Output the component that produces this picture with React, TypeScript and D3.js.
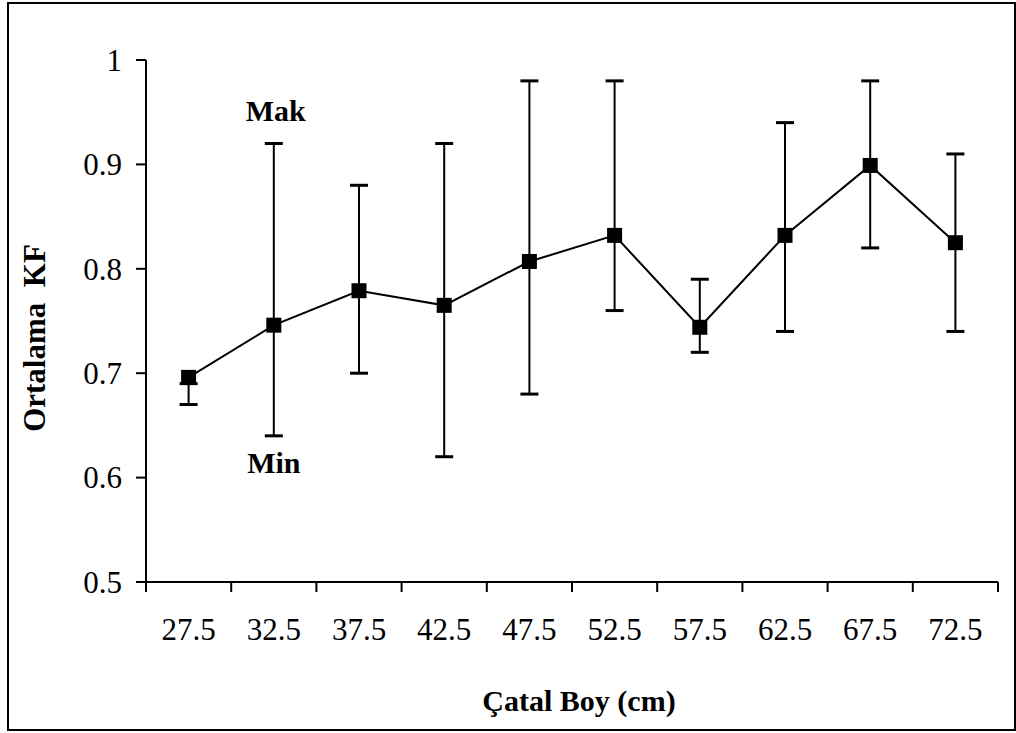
import React from "react";
import * as d3 from "d3";

const categories = ["27.5", "32.5", "37.5", "42.5", "47.5", "52.5", "57.5", "62.5", "67.5", "72.5"];
const meanValues = [0.696, 0.746, 0.779, 0.765, 0.807, 0.832, 0.744, 0.832, 0.899, 0.825];
const maxValues = [0.69, 0.92, 0.88, 0.92, 0.98, 0.98, 0.79, 0.94, 0.98, 0.91];
const minValues = [0.67, 0.64, 0.70, 0.62, 0.68, 0.76, 0.72, 0.74, 0.82, 0.74];
const yTicks = [0.5, 0.6, 0.7, 0.8, 0.9, 1];
const yTickLabels = ["0.5", "0.6", "0.7", "0.8", "0.9", "1"];

const FONT = "'Liberation Serif', 'Times New Roman', serif";

export default function App() {
  const W = 1016;
  const H = 733;
  const left = 146, right = 998, top = 60, bottom = 582;

  const x = d3.scaleBand<string>().domain(categories).range([left, right]).padding(0);
  const y = d3.scaleLinear().domain([0.5, 1]).range([bottom, top]);
  const cx = (c: string) => (x(c) as number) + x.bandwidth() / 2;

  const lineGen = d3
    .line<number>()
    .x((_, i) => cx(categories[i]))
    .y((d) => y(d));

  const boundaries = categories.map((c) => x(c) as number).concat([right]);
  const capW = 18;
  const mk = 15;

  return (
    <svg
      width={W}
      height={H}
      style={{ position: "absolute", left: 0, top: 0, background: "#fff" }}
      fontFamily={FONT}
    >
      <rect x={8} y={3} width={1007} height={727} fill="#fff" stroke="#000" strokeWidth={2} />

      {/* axes */}
      <line x1={left} y1={top} x2={left} y2={bottom + 10} stroke="#000" strokeWidth={2} />
      <line x1={left - 10} y1={bottom} x2={right} y2={bottom} stroke="#000" strokeWidth={2} />
      {yTicks.map((t, i) => (
        <g key={"yt" + i}>
          <line x1={left - 10} x2={left} y1={y(t)} y2={y(t)} stroke="#000" strokeWidth={2} />
          <text x={122} y={y(t)} dy="0.35em" textAnchor="end" fontSize={31} fill="#000">
            {yTickLabels[i]}
          </text>
        </g>
      ))}
      {boundaries.map((b, i) => (
        <line key={"xt" + i} x1={b} x2={b} y1={bottom} y2={bottom + 10} stroke="#000" strokeWidth={2} />
      ))}
      {categories.map((c) => (
        <text key={"xl" + c} x={cx(c)} y={640} textAnchor="middle" fontSize={31} fill="#000">
          {c}
        </text>
      ))}

      {/* error bars */}
      {categories.map((c, i) => {
        const xc = cx(c);
        return (
          <g key={"eb" + c}>
            <line x1={xc} x2={xc} y1={y(maxValues[i])} y2={y(minValues[i])} stroke="#000" strokeWidth={2} />
            <line x1={xc - capW / 2} x2={xc + capW / 2} y1={y(maxValues[i])} y2={y(maxValues[i])} stroke="#000" strokeWidth={3} />
            <line x1={xc - capW / 2} x2={xc + capW / 2} y1={y(minValues[i])} y2={y(minValues[i])} stroke="#000" strokeWidth={3} />
          </g>
        );
      })}

      {/* mean line */}
      <path d={lineGen(meanValues) || ""} fill="none" stroke="#000" strokeWidth={2} />
      {categories.map((c, i) => (
        <rect
          key={"m" + c}
          x={cx(c) - mk / 2}
          y={y(meanValues[i]) - mk / 2}
          width={mk}
          height={mk}
          fill="#000"
        />
      ))}

      {/* annotations */}
      <text x={cx("32.5") + 2} y={121} textAnchor="middle" fontSize={30} fontWeight="bold" fill="#000">
        Mak
      </text>
      <text x={cx("32.5")} y={473} textAnchor="middle" fontSize={30} fontWeight="bold" fill="#000">
        Min
      </text>

      {/* axis titles */}
      <text
        transform="translate(45, 338) rotate(-90)"
        textAnchor="middle"
        fontSize={31}
        fontWeight="bold"
        fill="#000"
        style={{ whiteSpace: "pre" }}
      >
        {"Ortalama  KF"}
      </text>
      <text x={579} y={711} textAnchor="middle" fontSize={30} fontWeight="bold" fill="#000">
        Çatal Boy (cm)
      </text>
    </svg>
  );
}
